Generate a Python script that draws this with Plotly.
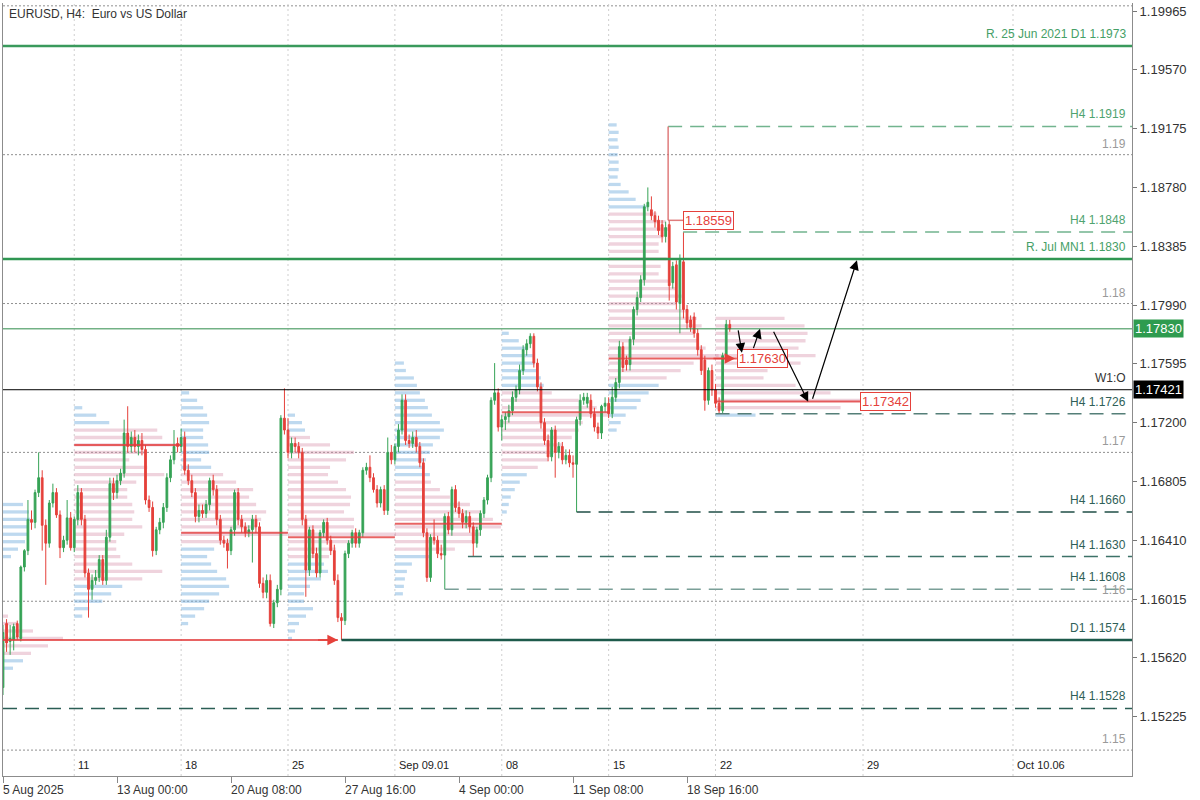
import plotly.graph_objects as go

# ---------------- candle data (H4 bars, index 0 = 5 Aug 2025 16:00) ----------------
opens = [1.1542,1.1585,1.1573,1.1574,1.1585,1.1575,1.1623,1.1634,1.1655,1.1653,
         1.1673,1.1683,1.1651,1.1639,1.1666,1.1673,1.1658,1.1636,1.1641,1.1656,
         1.1636,1.1655,1.1673,1.1655,1.1619,1.1608,1.1614,1.1616,1.1628,1.1614,
         1.1643,1.1679,1.1673,1.1681,1.1686,1.1713,1.1704,1.1710,1.1704,1.1708,
         1.1702,1.1668,1.1663,1.1634,1.1648,1.1653,1.1663,1.1683,1.1695,1.1706,
         1.1704,1.1710,1.1688,1.1681,1.1673,1.1657,1.1661,1.1659,1.1665,1.1681,
         1.1675,1.1655,1.1641,1.1639,1.1634,1.1648,1.1673,1.1655,1.1650,1.1646,
         1.1648,1.1655,1.1650,1.1612,1.1606,1.1614,1.1585,1.1599,1.1608,1.1723,
         1.1715,1.1700,1.1706,1.1704,1.1700,1.1655,1.1621,1.1648,1.1632,1.1619,
         1.1646,1.1653,1.1641,1.1634,1.1614,1.1589,1.1587,1.1632,1.1639,1.1646,
         1.1639,1.1646,1.1688,1.1690,1.1683,1.1675,1.1666,1.1675,1.1661,1.1700,
         1.1695,1.1704,1.1715,1.1735,1.1708,1.1706,1.1710,1.1704,1.1693,1.1646,
         1.1616,1.1643,1.1641,1.1632,1.1631,1.1657,1.1648,1.1675,1.1663,1.1659,
         1.1653,1.1657,1.1650,1.1639,1.1648,1.1659,1.1668,1.1683,1.1735,1.1740,
         1.1717,1.1722,1.1724,1.1728,1.1737,1.1742,1.1755,1.1769,1.1773,1.1778,
         1.1760,1.1744,1.1720,1.1708,1.1697,1.1715,1.1700,1.1704,1.1695,1.1698,
         1.1693,1.1692,1.1722,1.1735,1.1733,1.1735,1.1726,1.1717,1.1713,1.1731,
         1.1733,1.1726,1.1737,1.1747,1.1771,1.1762,1.1759,1.1776,1.1796,1.1804,
         1.1816,1.1865,1.1863,1.1859,1.1856,1.1853,1.1845,1.1853,1.1814,1.1826,
         1.1800,1.1828,1.1796,1.1789,1.1791,1.1780,1.1769,1.1762,1.1735,1.1755,
         1.1742,1.1733,1.1728,1.1765,1.1786]
highs = [1.1584,1.1588,1.1584,1.1585,1.1587,1.1624,1.1635,1.1668,1.1661,1.1675,
         1.1700,1.1688,1.1655,1.1668,1.1679,1.1676,1.1661,1.1644,1.1668,1.1660,
         1.1657,1.1678,1.1676,1.1658,1.1622,1.1618,1.1621,1.1631,1.1631,1.1648,
         1.1683,1.1683,1.1685,1.1689,1.1722,1.1731,1.1714,1.1715,1.1712,1.1713,
         1.1705,1.1671,1.1667,1.1650,1.1656,1.1666,1.1686,1.1698,1.1715,1.1710,
         1.1716,1.1714,1.1692,1.1685,1.1676,1.1665,1.1665,1.1668,1.1683,1.1685,
         1.1678,1.1658,1.1644,1.1642,1.1650,1.1675,1.1676,1.1658,1.1653,1.1651,
         1.1658,1.1658,1.1653,1.1616,1.1618,1.1618,1.1601,1.1611,1.1725,1.1743,
         1.1723,1.1710,1.1710,1.1707,1.1703,1.1658,1.1650,1.1651,1.1636,1.1648,
         1.1655,1.1656,1.1644,1.1638,1.1618,1.1592,1.1634,1.1641,1.1648,1.1649,
         1.1648,1.1690,1.1693,1.1698,1.1686,1.1678,1.1677,1.1678,1.1710,1.1705,
         1.1706,1.1719,1.1739,1.1739,1.1712,1.1714,1.1715,1.1707,1.1696,1.1649,
         1.1645,1.1655,1.1644,1.1638,1.1659,1.1660,1.1677,1.1678,1.1667,1.1662,
         1.1661,1.1660,1.1653,1.1650,1.1661,1.1670,1.1685,1.1737,1.1760,1.1743,
         1.1725,1.1727,1.1732,1.1741,1.1745,1.1759,1.1772,1.1776,1.1780,1.1780,
         1.1763,1.1747,1.1723,1.1712,1.1717,1.1718,1.1707,1.1707,1.1702,1.1702,
         1.1698,1.1724,1.1739,1.1740,1.1740,1.1739,1.1730,1.1720,1.1732,1.1737,
         1.1737,1.1744,1.1750,1.1775,1.1774,1.1765,1.1778,1.1798,1.1808,1.1819,
         1.1867,1.1878,1.1872,1.1862,1.1859,1.1856,1.1855,1.1856,1.1828,1.1829,
         1.1833,1.1848,1.1799,1.1792,1.1794,1.1783,1.1772,1.1765,1.1757,1.1759,
         1.1746,1.1737,1.1767,1.1789,1.1789]
lows = [1.1537,1.1566,1.1564,1.1567,1.1574,1.1573,1.1620,1.1631,1.1648,1.1649,
        1.1670,1.1634,1.1611,1.1636,1.1663,1.1656,1.1629,1.1633,1.1638,1.1634,
        1.1633,1.1651,1.1651,1.1616,1.1589,1.1601,1.1611,1.1613,1.1611,1.1611,
        1.1640,1.1668,1.1669,1.1678,1.1683,1.1700,1.1700,1.1700,1.1698,1.1698,
        1.1665,1.1660,1.1630,1.1631,1.1645,1.1649,1.1660,1.1680,1.1692,1.1700,
        1.1700,1.1685,1.1678,1.1670,1.1653,1.1653,1.1656,1.1656,1.1661,1.1671,
        1.1651,1.1638,1.1636,1.1622,1.1631,1.1644,1.1651,1.1646,1.1643,1.1643,
        1.1626,1.1646,1.1609,1.1602,1.1602,1.1583,1.1582,1.1596,1.1604,1.1712,
        1.1696,1.1696,1.1700,1.1696,1.1651,1.1603,1.1617,1.1629,1.1616,1.1616,
        1.1643,1.1638,1.1631,1.1611,1.1586,1.1574,1.1584,1.1629,1.1636,1.1636,
        1.1636,1.1643,1.1685,1.1680,1.1673,1.1663,1.1663,1.1658,1.1658,1.1692,
        1.1692,1.1700,1.1712,1.1705,1.1703,1.1703,1.1700,1.1690,1.1643,1.1613,
        1.1613,1.1638,1.1629,1.1628,1.1608,1.1645,1.1644,1.1660,1.1656,1.1649,
        1.1649,1.1646,1.1630,1.1636,1.1644,1.1656,1.1665,1.1680,1.1732,1.1714,
        1.1708,1.1715,1.1720,1.1725,1.1734,1.1739,1.1752,1.1765,1.1770,1.1757,
        1.1741,1.1716,1.1705,1.1694,1.1694,1.1683,1.1696,1.1692,1.1692,1.1690,
        1.1683,1.1660,1.1718,1.1732,1.1730,1.1723,1.1714,1.1709,1.1709,1.1727,
        1.1723,1.1723,1.1734,1.1743,1.1754,1.1755,1.1755,1.1772,1.1792,1.1801,
        1.1812,1.1862,1.1856,1.1851,1.1846,1.1841,1.1841,1.1802,1.1810,1.1796,
        1.1780,1.1790,1.1783,1.1781,1.1777,1.1765,1.1752,1.1728,1.1732,1.1738,
        1.1730,1.1726,1.1726,1.1762,1.1781]
closes = [1.1579,1.1572,1.1575,1.1583,1.1576,1.1623,1.1634,1.1655,1.1653,1.1673,
          1.1683,1.1651,1.1639,1.1666,1.1673,1.1658,1.1636,1.1641,1.1656,1.1636,
          1.1655,1.1673,1.1655,1.1619,1.1608,1.1614,1.1616,1.1628,1.1614,1.1643,
          1.1679,1.1673,1.1681,1.1686,1.1713,1.1704,1.1710,1.1704,1.1708,1.1702,
          1.1668,1.1663,1.1634,1.1648,1.1653,1.1663,1.1683,1.1695,1.1704,1.1704,
          1.1710,1.1688,1.1681,1.1673,1.1657,1.1661,1.1659,1.1665,1.1681,1.1675,
          1.1655,1.1641,1.1639,1.1634,1.1648,1.1673,1.1655,1.1650,1.1646,1.1648,
          1.1655,1.1650,1.1612,1.1606,1.1614,1.1585,1.1599,1.1608,1.1723,1.1715,
          1.1700,1.1706,1.1704,1.1700,1.1655,1.1621,1.1648,1.1632,1.1619,1.1646,
          1.1653,1.1641,1.1634,1.1614,1.1589,1.1587,1.1632,1.1639,1.1646,1.1639,
          1.1646,1.1688,1.1690,1.1683,1.1675,1.1666,1.1675,1.1661,1.1700,1.1695,
          1.1704,1.1715,1.1735,1.1708,1.1706,1.1710,1.1704,1.1693,1.1646,1.1616,
          1.1643,1.1641,1.1632,1.1631,1.1657,1.1648,1.1675,1.1663,1.1659,1.1653,
          1.1657,1.1650,1.1639,1.1648,1.1659,1.1668,1.1683,1.1735,1.1740,1.1717,
          1.1722,1.1724,1.1728,1.1737,1.1742,1.1755,1.1769,1.1773,1.1778,1.1760,
          1.1744,1.1720,1.1708,1.1697,1.1715,1.1700,1.1704,1.1695,1.1698,1.1693,
          1.1692,1.1722,1.1735,1.1737,1.1737,1.1726,1.1717,1.1713,1.1731,1.1733,
          1.1726,1.1737,1.1747,1.1771,1.1757,1.1759,1.1776,1.1796,1.1804,1.1816,
          1.1865,1.1868,1.1859,1.1855,1.1849,1.1845,1.1851,1.1812,1.1825,1.1801,
          1.1829,1.1796,1.1787,1.1784,1.1780,1.1769,1.1755,1.1735,1.1755,1.1742,
          1.1733,1.1728,1.1765,1.1786,1.17830]
bar_index = list(range(len(closes)))

# ---------------- weekly volume profiles (bins of 0.0005, from top price down) ----------------
profile_step = 0.0005
profile_start_bar = [0, 20, 50, 80, 110, 140, 170, 200]
profile_top = [1.1665, 1.1730, 1.1740, 1.1725, 1.1760, 1.1780, 1.1920, 1.1790]
prof_w0 = [20,26,27,25,24,22,15,8,0,0,0,0,0,0,0,5,15,30,60,45,28,20,10]
prof_w1 = [8,22,35,83,88,106,70,55,73,90,62,53,53,58,60,58,68,50,42,42,46,58,88,68,48,37,28,15,8]
prof_w2 = [8,16,22,26,28,22,22,27,28,20,30,42,55,72,68,75,85,80,75,106,50,33,26,30,36,45,48,38,28,23,14,7]
prof_w3 = [7,14,17,22,42,66,58,42,40,50,58,63,62,56,66,66,108,72,48,41,36,40,33,22,16,16,25,18,11,7,4]
prof_w4 = [9,11,19,22,25,30,33,37,45,49,45,38,35,31,30,35,36,45,55,75,86,98,106,86,77,60,36,17,12,10,9,8]
prof_w5 = [7,17,25,31,33,35,39,42,50,77,95,107,81,77,70,60,52,46,36,25,18,13,9,7,5]
prof_w6 = [8,10,9,10,9,10,10,9,12,20,27,38,48,57,60,55,50,50,58,52,50,60,68,73,68,80,88,93,85,90,
           97,110,85,72,58,50,40,32,28,17,12,8]
prof_w7 = [69,89,92,90,83,100,85,52,48,80,115,146,125,40]
value_area_low = [1.1565, 1.1615, 1.1640, 1.1630, 1.1635, 1.1690, 1.1750, 1.1730]
value_area_high = [1.1590, 1.1715, 1.1685, 1.1710, 1.1680, 1.1740, 1.1860, 1.1790]
poc_price = [1.1574, 1.1705, 1.1646, 1.1643, 1.1652, 1.1727, 1.1763, 1.17342]
poc_end_bar = [94, 50, 80, 110, 140, 170, 206, 240.6]

# ---------------- axes / labels ----------------
week_line_bar = [20, 50, 80, 110, 140, 170, 200, 241.4, 283.5]
week_labels = ["11", "18", "25", "Sep 09.01", "08", "15", "22", "29", "Oct 10.06"]
date_tick_bar = [0, 32, 64, 96, 128, 160, 192]
date_tick_text = ["5 Aug 2025", "13 Aug 00:00", "20 Aug 08:00", "27 Aug 16:00",
                  "4 Sep 00:00", "11 Sep 08:00", "18 Sep 16:00"]
price_ticks = [1.19965, 1.19570, 1.19175, 1.18780, 1.18385, 1.17990, 1.17595,
               1.17200, 1.16805, 1.16410, 1.16015, 1.15620, 1.15225]
round_levels = [1.20, 1.19, 1.18, 1.17, 1.16, 1.15]
round_labels = ["", "1.19", "1.18", "1.17", "1.16", "1.15"]

level_price = [1.1973, 1.1919, 1.1848, 1.1830, 1.1726, 1.1660, 1.1630, 1.1608, 1.1574, 1.1528]
level_label = ["R. 25 Jun 2021 D1 1.1973", "H4 1.1919", "H4 1.1848", "R. Jul MN1 1.1830",
               "H4 1.1726", "H4 1.1660", "H4 1.1630", "H4 1.1608", "D1 1.1574", "H4 1.1528"]
level_start_bar = [None, 186.7, 190.9, None, 200, 161, 130.5, 124, 95, None]

current_price = 1.17830
week_open = 1.17421
high_mark = 1.18559
projection_bar = [206.3, 207.4, 210.5, 212.5, 216.1, 226.0, 227.1, 239.7]
projection_price = [1.1783, 1.1767, 1.1769, 1.1783, 1.1782, 1.1734, 1.1735, 1.1829]

# ---------------- styles ----------------
GREEN = "#36a356"
RED = "#e5413b"
FONT = "Liberation Sans, Arial, sans-serif"
NARROW = "Liberation Sans Narrow, Arial Narrow, Liberation Sans, sans-serif"
PX_PER_BAR = 3.5625
level_style = [
    dict(color="#3a9a5c", width=2.5, dash="solid", text="#45a066"),
    dict(color="#72b48e", width=1.5, dash="14px,8px", text="#4fa36f"),
    dict(color="#72b48e", width=1.5, dash="14px,8px", text="#4fa36f"),
    dict(color="#2f9652", width=2.5, dash="solid", text="#45a066"),
    dict(color="#557f78", width=1.5, dash="14px,8px", text="#2f5f58"),
    dict(color="#214f47", width=1.5, dash="14px,8px", text="#2f5f58"),
    dict(color="#3d7268", width=1.5, dash="14px,8px", text="#2f5f58"),
    dict(color="#7a9f98", width=1.5, dash="14px,8px", text="#2f5f58"),
    dict(color="#1d5a4b", width=2.5, dash="solid", text="#2f5f58"),
    dict(color="#2b5e55", width=1.5, dash="14px,8px", text="#2f5f58"),
]

fig = go.Figure()

# volume profiles
profiles = [prof_w0, prof_w1, prof_w2, prof_w3, prof_w4, prof_w5, prof_w6, prof_w7]
for k, vols in enumerate(profiles):
    prices = [round(profile_top[k] - j * profile_step, 5) for j in range(len(vols))]
    cols = ["rgba(214,140,165,0.38)" if value_area_low[k] - 1e-9 <= p <= value_area_high[k] + 1e-9
            else "rgba(120,175,222,0.48)" for p in prices]
    fig.add_trace(go.Bar(
        orientation="h", y=prices, x=[v / PX_PER_BAR for v in vols],
        base=[profile_start_bar[k]] * len(vols), width=0.00022,
        marker=dict(color=cols, line=dict(width=0)), hoverinfo="skip"))

# candles
fig.add_trace(go.Candlestick(
    x=bar_index, open=opens, high=highs, low=lows, close=closes,
    increasing=dict(line=dict(color=GREEN, width=1), fillcolor=GREEN),
    decreasing=dict(line=dict(color=RED, width=1), fillcolor=RED),
    whiskerwidth=0, hoverinfo="skip"))

shapes = []
annotations = []

# grid lines
for p, lab in zip(round_levels, round_labels):
    shapes.append(dict(type="line", xref="paper", x0=0, x1=1, yref="y", y0=p, y1=p,
                       line=dict(color="#8f8f8f", width=1, dash="2px,2px"), layer="below"))
    if lab:
        annotations.append(dict(xref="paper", x=1, xanchor="right", xshift=-4, yref="y", y=p,
                                yanchor="bottom", yshift=2, text=lab, showarrow=False,
                                font=dict(family=FONT, size=12, color="#9a9a9a")))
for b, lab in zip(week_line_bar, week_labels):
    shapes.append(dict(type="line", xref="x", x0=b, x1=b, yref="paper", y0=0, y1=1,
                       line=dict(color="#cfcfcf", width=1, dash="2px,3px"), layer="below"))
    annotations.append(dict(xref="x", x=b, xanchor="left", xshift=2, yref="paper", y=0,
                            yanchor="bottom", yshift=3, text=lab, showarrow=False,
                            font=dict(family=NARROW, size=11, color="#222")))

# POC lines
for k in range(len(poc_price)):
    shapes.append(dict(type="line", xref="x", x0=profile_start_bar[k], x1=poc_end_bar[k],
                       yref="y", y0=poc_price[k], y1=poc_price[k],
                       line=dict(color="rgba(226,60,60,0.8)", width=2)))

# key levels
for p, lab, sb, st in zip(level_price, level_label, level_start_bar, level_style):
    if sb is None:
        shapes.append(dict(type="line", xref="paper", x0=0, x1=1, yref="y", y0=p, y1=p,
                           line=dict(color=st["color"], width=st["width"], dash=st["dash"])))
    else:
        shapes.append(dict(type="line", xref="x", x0=sb, x1=316.9, yref="y", y0=p, y1=p,
                           line=dict(color=st["color"], width=st["width"], dash=st["dash"])))
    annotations.append(dict(xref="paper", x=1, xanchor="right", xshift=-4, yref="y", y=p,
                            yanchor="bottom", yshift=3, text=lab, showarrow=False,
                            font=dict(family=FONT, size=12, color=st["text"])))

# current price & week open lines
shapes.append(dict(type="line", xref="paper", x0=0, x1=1, yref="y", y0=current_price, y1=current_price,
                   line=dict(color="#2e8b4a", width=1)))
shapes.append(dict(type="line", xref="paper", x0=0, x1=1, yref="y", y0=week_open, y1=week_open,
                   line=dict(color="#000000", width=1)))
annotations.append(dict(xref="paper", x=1, xanchor="right", xshift=-4, yref="y", y=week_open,
                        yanchor="bottom", yshift=3, text="W1:O", showarrow=False,
                        font=dict(family=FONT, size=12, color="#333")))

# 1.18559 marker connector
shapes.append(dict(type="line", xref="x", x0=186.7, x1=186.7, yref="y", y0=high_mark, y1=level_price[1],
                   line=dict(color="rgba(220,110,110,0.9)", width=1.5)))
shapes.append(dict(type="line", xref="x", x0=186.7, x1=190.9, yref="y", y0=high_mark, y1=high_mark,
                   line=dict(color="rgba(220,110,110,0.9)", width=1.5)))

# red boxed labels
for bx, p in [(190.9, high_mark), (206.0, poc_price[6]), (240.6, poc_price[7])]:
    annotations.append(dict(xref="x", x=bx, xanchor="left", yref="y", y=p, yanchor="middle",
                            text=f"{p:.5f}", showarrow=False, bgcolor="white",
                            bordercolor=RED, borderwidth=1, borderpad=1,
                            font=dict(family=FONT, size=13, color=RED)))

# red arrowheads on POC lines
for hx, tx, p in [(94, 88, poc_price[0]), (205.5, 199, poc_price[6])]:
    annotations.append(dict(xref="x", yref="y", x=hx, y=p, axref="x", ayref="y", ax=tx, ay=p,
                            showarrow=True, arrowhead=2, arrowsize=1.4, arrowwidth=1.5,
                            arrowcolor=RED, text=""))

# projection arrows
for j in range(0, len(projection_bar), 2):
    annotations.append(dict(xref="x", yref="y", x=projection_bar[j + 1], y=projection_price[j + 1],
                            axref="x", ayref="y", ax=projection_bar[j], ay=projection_price[j],
                            showarrow=True, arrowhead=2, arrowsize=1.6, arrowwidth=1.2,
                            arrowcolor="#000", text=""))

# right-axis price tags
annotations.append(dict(xref="paper", x=1, xanchor="left", xshift=1, yref="y", y=current_price,
                        yanchor="middle", text=f"{current_price:.5f}", showarrow=False,
                        bgcolor="#2e9b4f", borderpad=1, font=dict(family=FONT, size=13, color="white")))
annotations.append(dict(xref="paper", x=1, xanchor="left", xshift=1, yref="y", y=week_open,
                        yanchor="middle", text=f"{week_open:.5f}", showarrow=False,
                        bgcolor="#000000", borderpad=1, font=dict(family=FONT, size=13, color="white")))

# bottom date labels
for b, t in zip(date_tick_bar, date_tick_text):
    annotations.append(dict(xref="x", x=b, xanchor="left", xshift=-2, yref="paper", y=0,
                            yanchor="top", yshift=-5, text=t, showarrow=False,
                            font=dict(family=FONT, size=12, color="#333")))

# title
annotations.append(dict(xref="paper", x=0, xanchor="left", xshift=4, yref="paper", y=1,
                        yanchor="top", yshift=-2, text="EURUSD, H4:&nbsp; Euro vs US Dollar",
                        showarrow=False, font=dict(family=FONT, size=12, color="#333")))

fig.update_layout(
    width=1200, height=800, margin=dict(l=3, r=68, t=3, b=24),
    paper_bgcolor="white", plot_bgcolor="white", showlegend=False, barmode="overlay",
    shapes=shapes, annotations=annotations,
    xaxis=dict(range=[0, 316.9], showgrid=False, zeroline=False, rangeslider=dict(visible=False),
               tickvals=date_tick_bar, ticks="outside", ticklen=6, tickcolor="#888",
               showticklabels=False, showline=True, linecolor="#8c8c8c", linewidth=1),
    yaxis=dict(side="right", range=[1.14826, 1.20019], tickvals=price_ticks,
               ticktext=[f"{v:.5f}" for v in price_ticks], ticks="outside", ticklen=4,
               tickcolor="#777", showgrid=False, zeroline=False, showline=True,
               linecolor="#8c8c8c", linewidth=1, mirror=True,
               tickfont=dict(family=FONT, size=13, color="#333")),
)

fig.write_html("out.html", config={"displayModeBar": False},
               post_script="document.body.style.margin='0';")
